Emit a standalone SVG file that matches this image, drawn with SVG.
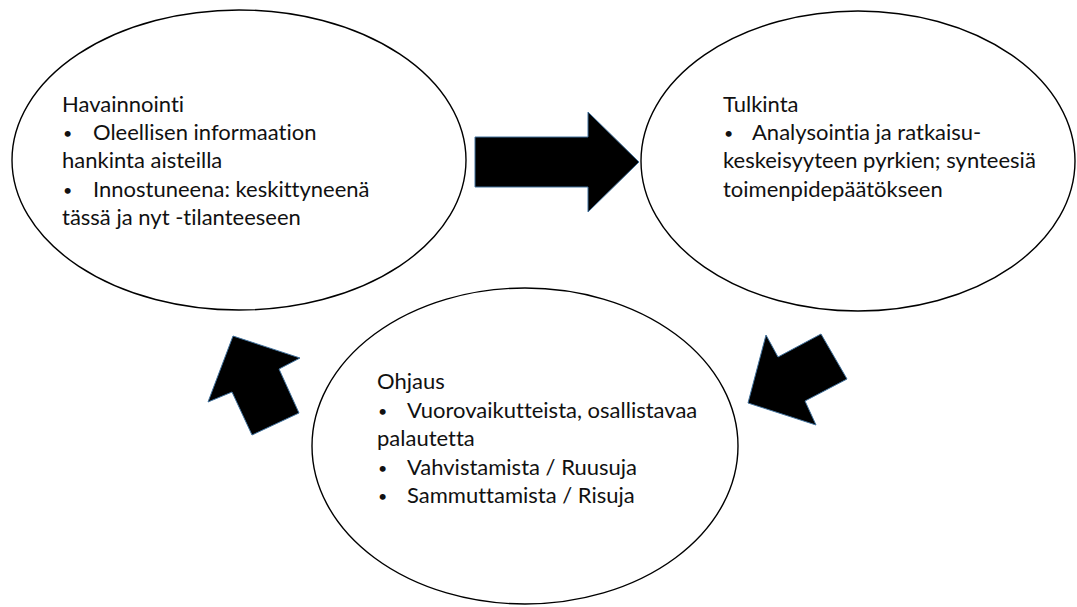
<svg xmlns="http://www.w3.org/2000/svg" width="1077" height="607" viewBox="0 0 1077 607">
<style>
.ell{fill:#fff;stroke:#000;stroke-width:1.4}
.arr{fill:#000;stroke:#41719c;stroke-width:1}
text{font-family:Lato,"Open Sans","Liberation Sans",sans-serif;font-size:22px;fill:#111;font-variant-ligatures:none}
.b{font-size:16px}
</style>
<rect width="1077" height="607" fill="#fff"/>
<g id="havainnointi">
<ellipse class="ell" cx="239" cy="160" rx="227" ry="150"/>
<text x="62" y="112">Havainnointi</text>
<text class="b" x="63" y="139">•</text><text x="93" y="140">Oleellisen informaation</text>
<text x="62" y="168">hankinta aisteilla</text>
<text class="b" x="63" y="196">•</text><text x="93" y="197">Innostuneena: keskittyneenä</text>
<text x="62" y="225">tässä ja nyt -tilanteeseen</text>
</g>
<g id="tulkinta">
<ellipse class="ell" cx="858" cy="161" rx="217" ry="150"/>
<text x="723" y="112">Tulkinta</text>
<text class="b" x="724" y="139">•</text><text x="752" y="140">Analysointia ja ratkaisu-</text>
<text x="723" y="168">keskeisyyteen pyrkien; synteesiä</text>
<text x="723" y="197">toimenpidepäätökseen</text>
</g>
<g id="ohjaus">
<ellipse class="ell" cx="525" cy="446" rx="213" ry="158"/>
<text x="377" y="389">Ohjaus</text>
<text class="b" x="378" y="417">•</text><text x="407" y="418">Vuorovaikutteista, osallistavaa</text>
<text x="377" y="446">palautetta</text>
<text class="b" x="378" y="474">•</text><text x="407" y="475">Vahvistamista / Ruusuja</text>
<text class="b" x="378" y="502">•</text><text x="407" y="503">Sammuttamista / Risuja</text>
</g>
<g id="connectors">
<polygon class="arr" points="475,137 588,137 588,112 639,162 588,212 588,187 475,187"/>
<polygon class="arr" points="748,403 766,335 778,357 821,334 847,379 805,401 816,425"/>
<polygon class="arr" points="233,336 300,358 279,369 299,413 252,435 232,392 208,402"/>
</g>
</svg>
